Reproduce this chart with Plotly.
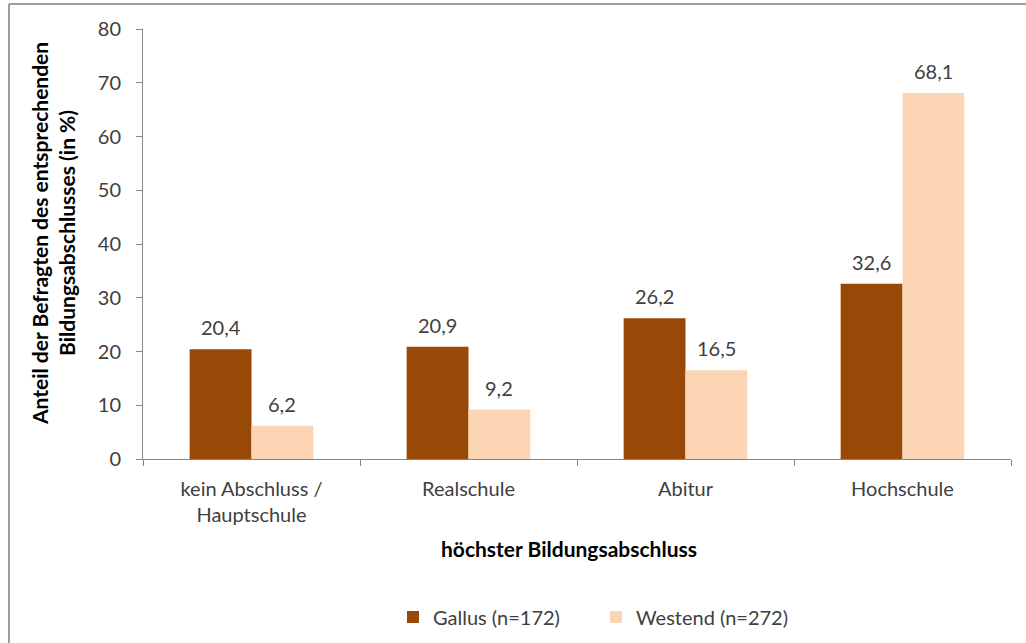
import plotly.graph_objects as go

categories = ["kein Abschluss /<br>Hauptschule", "Realschule", "Abitur", "Hochschule"]
gallus = [20.4, 20.9, 26.2, 32.6]
westend = [6.2, 9.2, 16.5, 68.1]
series_names = ["Gallus (n=172)", "Westend (n=272)"]
y_ticks = [0, 10, 20, 30, 40, 50, 60, 70, 80]

FONT = "Lato, Open Sans, sans-serif"
TXT = "#404040"
AX = "#868686"
BARGAP = 0.43

L, R, T, B = 143, 15, 29, 184
W, H = 1026, 643
pw = W - L - R
ph = H - T - B

def px(x):
    return (x - L) / pw

def py(y):
    return (H - B - y) / ph

fig = go.Figure()
fig.add_trace(go.Bar(x=categories, y=gallus, name=series_names[0],
                     marker=dict(color="#984807", line=dict(width=0)), hoverinfo="skip"))
fig.add_trace(go.Bar(x=categories, y=westend, name=series_names[1],
                     marker=dict(color="#FCD5B5", line=dict(width=0)), hoverinfo="skip"))

# value labels, positioned from the data via axis scales
bar_w = pw / len(categories) * (1 - BARGAP) / 2
annotations = []
for series, shift in ((gallus, -bar_w / 2), (westend, bar_w / 2)):
    for cat, v in zip(categories, series):
        annotations.append(dict(x=cat, y=v, xref="x", yref="y", text=f"{v:.1f}".replace(".", ","),
                                showarrow=False, xshift=shift, yshift=22, yanchor="middle",
                                font=dict(family=FONT, size=20, color=TXT)))

annotations += [
    dict(text="<b>Anteil der Befragten des entsprechenden<br>Bildungsabschlusses (in %)</b>",
         xref="paper", yref="paper", x=px(53), y=py(234), xanchor="center", yanchor="middle",
         textangle=-90, showarrow=False, font=dict(family=FONT, size=21, color="black")),
    dict(text="<b>höchster Bildungsabschluss</b>", xref="paper", yref="paper",
         x=px(569), y=py(548), xanchor="center", yanchor="middle", showarrow=False,
         font=dict(family=FONT, size=21, color="black")),
]

fig.update_layout(
    width=W, height=H,
    margin=dict(l=L, r=R, t=T, b=B, pad=0, autoexpand=False),
    paper_bgcolor="white", plot_bgcolor="white",
    barmode="group", bargap=BARGAP, bargroupgap=0,
    font=dict(family=FONT, size=20, color=TXT),
    showlegend=True,
    legend=dict(orientation="h", x=px(393), xanchor="left", y=py(617), yanchor="middle",
                font=dict(family=FONT, size=20, color=TXT), itemwidth=30,
                entrywidth=158, entrywidthmode="pixels", traceorder="normal"),
    xaxis=dict(showline=True, linecolor=AX, linewidth=1, ticks="outside", tickson="boundaries",
               ticklen=6, tickcolor=AX, showgrid=False, ticklabelstandoff=12,
               tickfont=dict(family=FONT, size=20, color=TXT)),
    yaxis=dict(range=[0, 80], tickvals=y_ticks, showline=True, linecolor=AX, linewidth=1,
               ticks="outside", ticklen=6, tickcolor=AX, showgrid=False, zeroline=False,
               ticklabelstandoff=11,
               tickfont=dict(family=FONT, size=20, color=TXT)),
    annotations=annotations,
    shapes=[
        dict(type="line", xref="paper", yref="paper", x0=px(9), x1=px(9), y0=py(4), y1=py(643),
             line=dict(color="#7f7f7f", width=1.5)),
        dict(type="line", xref="paper", yref="paper", x0=px(9), x1=px(1026), y0=py(4), y1=py(4),
             line=dict(color="#7f7f7f", width=1.5)),
    ],
)

fig.write_html("out.html", config={"displayModeBar": False},
               post_script="document.body.style.margin='0';document.body.style.overflow='hidden';")
